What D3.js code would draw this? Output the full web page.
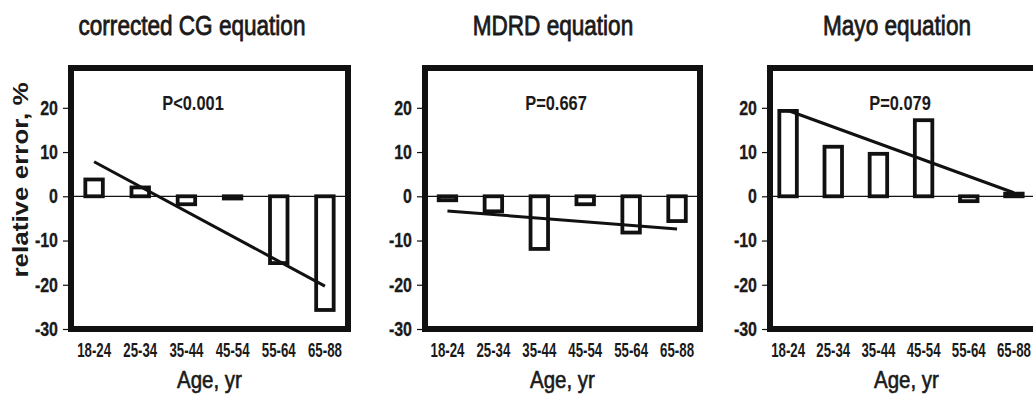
<!DOCTYPE html>
<html>
<head>
<meta charset="utf-8">
<script src="https://cdn.jsdelivr.net/npm/d3@7"></script>
<style>
  html, body { margin: 0; padding: 0; background: #fff; }
  svg { display: block; }
  text { font-family: "Liberation Sans", Arial, sans-serif; }
</style>
</head>
<body>
<svg id="chart" width="1033" height="396"></svg>
<script>
// ---- data ----
const categories = ["18-24", "25-34", "35-44", "45-54", "55-64", "65-88"];
const panelTitles = ["corrected CG equation", "MDRD equation", "Mayo equation"];
const pLabels = ["P<0.001", "P=0.667", "P=0.079"];
const cgValues = [3.8, 2.0, -1.8, -0.5, -15.1, -25.7];
const mdrdValues = [-0.9, -3.4, -11.9, -1.8, -8.2, -5.6];
const mayoValues = [19.3, 11.2, 9.6, 17.2, -1.1, 0.6];
// regression line end values (at first and last age group)
const cgTrend = [7.8, -20.3];
const mdrdTrend = [-3.3, -7.4];
const mayoTrend = [19.4, 0.8];
const yTicks = [-30, -20, -10, 0, 10, 20];
const yDomain = [-30, 29];
const yLabel = "relative error, %";
const xLabel = "Age, yr";

const seriesValues = [cgValues, mdrdValues, mayoValues];
const trends = [cgTrend, mdrdTrend, mayoTrend];

// ---- layout ----
const layout = [
  { frame: [71, 348], band: [71, 348], titleX: 192, pX: 193 },
  { frame: [425, 700], band: [424.5, 700], titleX: 553, pX: 556 },
  { frame: [770, 1047], band: [765.5, 1036.5], titleX: 897, pX: 900 }
];
const frameTop = 68, frameBottom = 329;
const barW = 17.5;

// horizontally condense a text selection (emulates a condensed typeface)
function condense(sel, factor) {
  sel.each(function () {
    const len = this.getComputedTextLength();
    d3.select(this).attr("textLength", len * factor).attr("lengthAdjust", "spacingAndGlyphs");
  });
}

const svg = d3.select("#chart");
const y = d3.scaleLinear().domain(yDomain).range([frameBottom, frameTop]);

layout.forEach((L, i) => {
  const g = svg.append("g");
  const x = d3.scaleBand().domain(categories).range(L.band);
  const vals = seriesValues[i];
  const cx = c => x(c) + x.bandwidth() / 2;

  // title
  g.append("text")
    .attr("x", L.titleX).attr("y", 35)
    .attr("text-anchor", "middle")
    .attr("font-size", 27.5)
    .attr("fill", "#1a1a1a").attr("stroke", "#1a1a1a").attr("stroke-width", 0.8)
    .text(panelTitles[i])
    .call(condense, 0.82);

  // y axis
  const yAxis = d3.axisLeft(y).tickValues(yTicks).tickSize(8).tickPadding(5).tickFormat(d => String(d));
  const ya = g.append("g").attr("transform", `translate(${L.frame[0]},0)`).call(yAxis);
  ya.attr("font-family", null).attr("font-size", null);
  ya.select(".domain").remove();
  ya.selectAll(".tick line").attr("stroke", "#111").attr("stroke-width", 1.2);
  ya.selectAll(".tick text")
    .attr("font-size", 20).attr("font-weight", "bold").attr("fill", "#1a1a1a")
    .attr("stroke", "#1a1a1a").attr("stroke-width", 0.3)
    .call(condense, 0.8);

  // zero line
  g.append("line")
    .attr("x1", L.frame[0]).attr("x2", L.frame[1])
    .attr("y1", y(0)).attr("y2", y(0))
    .attr("stroke", "#111").attr("stroke-width", 1.2);

  // bars
  g.selectAll("rect.bar").data(categories).join("rect")
    .attr("class", "bar")
    .attr("x", c => cx(c) - barW / 2)
    .attr("width", barW)
    .attr("y", (c, j) => Math.min(y(vals[j]), y(0)))
    .attr("height", (c, j) => Math.abs(y(vals[j]) - y(0)))
    .attr("fill", "#fff").attr("stroke", "#111").attr("stroke-width", 3.8);

  // regression line
  const t = trends[i];
  g.append("line")
    .attr("x1", cx(categories[0])).attr("y1", y(t[0]))
    .attr("x2", cx(categories[categories.length - 1])).attr("y2", y(t[1]))
    .attr("stroke", "#111").attr("stroke-width", 3);

  // frame
  g.append("rect")
    .attr("x", L.frame[0]).attr("y", frameTop)
    .attr("width", L.frame[1] - L.frame[0]).attr("height", frameBottom - frameTop)
    .attr("fill", "none").attr("stroke", "#111").attr("stroke-width", 6);

  // P label
  g.append("text")
    .attr("x", L.pX).attr("y", 110)
    .attr("text-anchor", "middle")
    .attr("font-size", 20).attr("font-weight", "bold").attr("fill", "#1a1a1a")
    .text(pLabels[i])
    .call(condense, 0.82);

  // x axis labels
  const xAxis = d3.axisBottom(x).tickSize(0).tickPadding(0);
  const xa = g.append("g").attr("transform", `translate(0,${frameBottom})`).call(xAxis);
  xa.attr("font-family", null).attr("font-size", null);
  xa.select(".domain").remove();
  xa.selectAll(".tick text")
    .attr("dy", null).attr("y", 28)
    .attr("font-size", 19.5).attr("font-weight", "bold").attr("fill", "#1a1a1a")
    .call(condense, 0.68);

  // x title
  g.append("text")
    .attr("x", (L.frame[0] + L.frame[1]) / 2 - (i === 2 ? 2 : 0)).attr("y", 388)
    .attr("text-anchor", "middle")
    .attr("font-size", 23)
    .attr("fill", "#1a1a1a").attr("stroke", "#1a1a1a").attr("stroke-width", 0.6)
    .text(xLabel)
    .call(condense, 0.89);
});

// y label
svg.append("text")
  .attr("transform", "translate(28,180) rotate(-90)")
  .attr("text-anchor", "middle")
  .attr("font-family", "DejaVu Sans, sans-serif")
  .attr("font-size", 22).attr("font-weight", "bold").attr("fill", "#1a1a1a")
  .attr("textLength", 195).attr("lengthAdjust", "spacingAndGlyphs")
  .text(yLabel);
</script>
</body>
</html>
